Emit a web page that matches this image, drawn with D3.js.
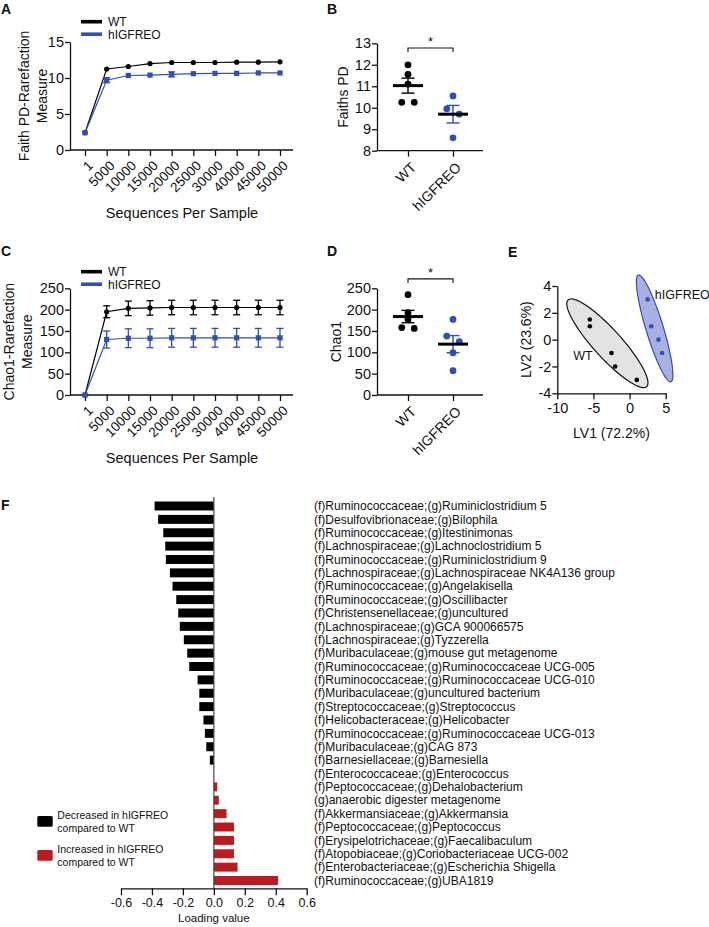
<!DOCTYPE html>
<html><head><meta charset="utf-8">
<script src="https://cdn.jsdelivr.net/npm/d3@7"></script>
<style>
body{margin:0;background:#fff}
svg{display:block}
text{font-family:"Liberation Sans",Arial,Helvetica,sans-serif;fill:#111}
</style>
</head><body>
<svg id="c" width="709" height="927"></svg>
<script>
// ---------------- DATA ----------------
const depths = ["1","5000","10000","15000","20000","25000","30000","40000","45000","50000"];
const faithWT    = [2.4,11.25,11.6,12.0,12.15,12.15,12.15,12.2,12.2,12.25];
const faithWTsem = [0.05,0.3,0.3,0.3,0.25,0.25,0.25,0.25,0.3,0.3];
const faithKO    = [2.4,9.7,10.35,10.4,10.5,10.6,10.65,10.65,10.7,10.7];
const faithKOsem = [0.05,0.35,0.3,0.3,0.35,0.3,0.3,0.3,0.3,0.3];
const chaoWT    = [0,195,203,204,205,205,205,205,205,205];
const chaoWTsem = [0,14,17,17,17,17,17,17,17,17];
const chaoKO    = [0,130,133,133,134,134,134,134,134,134];
const chaoKOsem = [0,20,22,22,22,22,22,22,22,22];
const groups = ["WT","hIGFREO"];
const faithPD_WT = [12.0,11.55,11.1,10.25,10.25];
const faithPD_KO = [10.55,9.95,9.7,8.6];
const chao1_WT = [235,193,177,156,158];
const chao1_KO = [177,138,125,99,57];
const sigFaith = 12.78, sigChao = 272;
const plsWT = [[-5.5,1.5],[-5.5,1.0],[-2.5,-1.0],[-2,-2],[1,-3]];
const plsKO = [[2.5,3],[3,1],[4,0],[4.5,-1]];
const ellipseWT = {c:[-3.07,-0.27], a:[5.43,-3.23], b:[1.44,0.70]};
const ellipseKO = {c:[3.47,0.84], a:[2.25,-3.98], b:[1.15,0.19]};
const taxa = [
"(f)Ruminococcaceae;(g)Ruminiclostridium 5",
"(f)Desulfovibrionaceae;(g)Bilophila",
"(f)Ruminococcaceae;(g)Itestinimonas",
"(f)Lachnospiraceae;(g)Lachnoclostridium 5",
"(f)Ruminococcaceae;(g)Ruminiclostridium 9",
"(f)Lachnospiraceae;(g)Lachnospiraceae NK4A136 group",
"(f)Ruminococcaceae;(g)Angelakisella",
"(f)Ruminococcaceae;(g)Oscillibacter",
"(f)Christensenellaceae;(g)uncultured",
"(f)Lachnospiraceae;(g)GCA 900066575",
"(f)Lachnospiraceae;(g)Tyzzerella",
"(f)Muribaculaceae;(g)mouse gut metagenome",
"(f)Ruminococcaceae;(g)Ruminococcaceae UCG-005",
"(f)Ruminococcaceae;(g)Ruminococcaceae UCG-010",
"(f)Muribaculaceae;(g)uncultured bacterium",
"(f)Streptococcaceae;(g)Streptococcus",
"(f)Helicobacteraceae;(g)Helicobacter",
"(f)Ruminococcaceae;(g)Ruminococcaceae UCG-013",
"(f)Muribaculaceae;(g)CAG 873",
"(f)Barnesiellaceae;(g)Barnesiella",
"(f)Enterococcaceae;(g)Enterococcus",
"(f)Peptococcaceae;(g)Dehalobacterium",
"(g)anaerobic digester metagenome",
"(f)Akkermansiaceae;(g)Akkermansia",
"(f)Peptococcaceae;(g)Peptococcus",
"(f)Erysipelotrichaceae;(g)Faecalibaculum",
"(f)Atopobiaceae;(g)Coriobacteriaceae UCG-002",
"(f)Enterobacteriaceae;(g)Escherichia Shigella",
"(f)Ruminococcaceae;(g)UBA1819"];
const loadings = [-0.383,-0.36,-0.327,-0.314,-0.31,-0.284,-0.267,-0.243,-0.23,-0.22,-0.194,-0.172,-0.159,-0.105,-0.094,-0.094,-0.067,-0.058,-0.049,-0.026,0.0,0.022,0.032,0.082,0.13,0.13,0.13,0.153,0.415];
const loadTicks = [-0.6,-0.4,-0.2,0,0.2,0.4,0.6];
const legendF = ["Decreased in hIGFREO|compared to WT","Increased in hIGFREO|compared to WT"];

// ---------------- STYLE ----------------
const BLACK="#000", BLUE="#2c50b4", RED="#bb1a1e";
const svg = d3.select("#c");
const fmtInt = d=>String(d);

function styleAxis(g, fs){
  g.selectAll("path,line").attr("stroke","#111").attr("stroke-width",1.3);
  g.selectAll("text").attr("font-size",fs).attr("fill","#111")
    .style("font-family",'"Liberation Sans",Arial,sans-serif');
}
function panelLabel(t,x,y){
  svg.append("text").attr("x",x).attr("y",y).attr("font-size",14).attr("font-weight","bold").text(t);
}
function rotTitle(lines, x0, yc, fs, gap){
  lines.forEach((l,i)=>{
    svg.append("text").attr("transform",`translate(${x0+i*gap},${yc}) rotate(-90)`)
      .attr("text-anchor","middle").attr("font-size",fs).text(l);
  });
}

// ---------------- Rarefaction panels (A, C) ----------------
function rarefaction(yScale, ticks, wt, wtE, ko, koE, legendY, titleLines, titleX, xTitleY){
  const x = d3.scalePoint().domain(depths).range([85,280]);
  const gY = svg.append("g").attr("transform","translate(70,0)")
    .call(d3.axisLeft(yScale).tickValues(ticks).tickFormat(fmtInt).tickSize(5).tickSizeOuter(0).tickPadding(1));
  styleAxis(gY,14.5);
  const base = yScale.range()[0];
  const gX = svg.append("g").attr("transform",`translate(0,${base})`)
    .call(d3.axisBottom(x).tickSize(6).tickSizeOuter(0));
  gX.select(".domain").remove();
  gX.append("line").attr("x1",70).attr("x2",293).attr("stroke","#111").attr("stroke-width",1.3);
  styleAxis(gX,13.5);
  gX.selectAll(".tick text").attr("y",0).attr("dy","0.35em").attr("text-anchor","end")
    .attr("transform","translate(5,13) rotate(-45)");
  const series = [{v:wt,e:wtE,c:BLACK,shape:"circle"},{v:ko,e:koE,c:BLUE,shape:"square"}];
  series.forEach(s=>{
    const g = svg.append("g");
    const pts = depths.map((d,i)=>({d, v:s.v[i], e:s.e[i]}));
    g.append("path").datum(pts).attr("fill","none").attr("stroke",s.c).attr("stroke-width",1.2)
      .attr("d", d3.line().x(p=>x(p.d)).y(p=>yScale(p.v)));
    const eb = g.selectAll(".eb").data(pts.filter(p=>p.e>0.06*(ticks[1]-ticks[0]))).join("g");
    eb.append("line").attr("x1",p=>x(p.d)).attr("x2",p=>x(p.d))
      .attr("y1",p=>yScale(p.v-p.e)).attr("y2",p=>yScale(p.v+p.e)).attr("stroke",s.c).attr("stroke-width",1.3);
    [-1,1].forEach(sg=>eb.append("line").attr("x1",p=>x(p.d)-3.5).attr("x2",p=>x(p.d)+3.5)
      .attr("y1",p=>yScale(p.v+sg*p.e)).attr("y2",p=>yScale(p.v+sg*p.e)).attr("stroke",s.c).attr("stroke-width",1.3));
    if(s.shape==="circle"){
      g.selectAll("circle").data(pts).join("circle").attr("cx",p=>x(p.d)).attr("cy",p=>yScale(p.v)).attr("r",2.6).attr("fill",s.c);
    } else {
      g.selectAll("rect").data(pts).join("rect").attr("x",p=>x(p.d)-2.6).attr("y",p=>yScale(p.v)-2.6)
        .attr("width",5.2).attr("height",5.2).attr("fill",s.c);
    }
  });
  groups.forEach((gname,i)=>{
    const yy = legendY + i*12.5;
    svg.append("line").attr("x1",81).attr("x2",102).attr("y1",yy).attr("y2",yy)
      .attr("stroke",i?BLUE:BLACK).attr("stroke-width",3.6);
    svg.append("text").attr("x",108).attr("y",yy+4.3).attr("font-size",12).text(gname);
  });
  rotTitle(titleLines, titleX, (yScale.range()[0]+yScale.range()[1])/2, 14, 18);
  svg.append("text").attr("x",182).attr("y",xTitleY).attr("text-anchor","middle").attr("font-size",14.5).text("Sequences Per Sample");
}
const yA = d3.scaleLinear().domain([0,15]).range([150,42]);
rarefaction(yA,[0,5,10,15],faithWT,faithWTsem,faithKO,faithKOsem,21.7,["Faith PD-Rarefaction","Measure"],29,218);
const yC = d3.scaleLinear().domain([0,250]).range([395,288.3]);
rarefaction(yC,[0,50,100,150,200,250],chaoWT,chaoWTsem,chaoKO,chaoKOsem,271.7,["Chao1-Rarefaction","Measure"],14,463);
panelLabel("A",1,14); panelLabel("C",1,256);

// ---------------- Dot plots (B, D) ----------------
function dodge(vals, yScale, r){
  const idx = vals.map((v,i)=>({v,i,py:yScale(v)})).sort((a,b)=>a.py-b.py);
  const out = new Array(vals.length);
  let cluster=[idx[0]];
  const flush=()=>{ const n=cluster.length; cluster.forEach((c,k)=>out[c.i]=(k-(n-1)/2)*12.5); };
  for(let k=1;k<idx.length;k++){
    if(idx[k].py-cluster[cluster.length-1].py < 2*r){ cluster.push(idx[k]); }
    else { flush(); cluster=[idx[k]]; }
  }
  flush();
  return out;
}
function dotPlot(yScale, ticks, wt, ko, sig, yTitle, titleX){
  const x = d3.scalePoint().domain(groups).range([408,453]);
  const gY = svg.append("g").attr("transform","translate(377,0)")
    .call(d3.axisLeft(yScale).tickValues(ticks).tickFormat(fmtInt).tickSize(5).tickSizeOuter(0).tickPadding(1));
  styleAxis(gY,14.5);
  const base = yScale.range()[0];
  const gX = svg.append("g").attr("transform",`translate(0,${base})`)
    .call(d3.axisBottom(x).tickSize(6).tickSizeOuter(0));
  gX.select(".domain").remove();
  gX.append("line").attr("x1",377).attr("x2",483).attr("stroke","#111").attr("stroke-width",1.3);
  styleAxis(gX,14);
  gX.selectAll(".tick text").attr("y",0).attr("dy","0.35em").attr("text-anchor","end")
    .attr("transform","translate(5,14) rotate(-45)");
  [[wt,BLACK],[ko,BLUE]].forEach(([vals,col],gi)=>{
    const gx = x(groups[gi]);
    const off = dodge(vals,yScale,3.4);
    const m = d3.mean(vals), sem = d3.deviation(vals)/Math.sqrt(vals.length);
    svg.append("g").selectAll("circle").data(vals).join("circle")
      .attr("cx",(v,i)=>gx+off[i]).attr("cy",v=>yScale(v)).attr("r",3.4).attr("fill",col);
    svg.append("line").attr("x1",gx).attr("x2",gx).attr("y1",yScale(m-sem)).attr("y2",yScale(m+sem)).attr("stroke",col).attr("stroke-width",1.4);
    [m-sem,m+sem].forEach(v=>svg.append("line").attr("x1",gx-6.5).attr("x2",gx+6.5).attr("y1",yScale(v)).attr("y2",yScale(v)).attr("stroke",col).attr("stroke-width",1.4));
    svg.append("line").attr("x1",gx-15).attr("x2",gx+15).attr("y1",yScale(m)).attr("y2",yScale(m)).attr("stroke","#000").attr("stroke-width",3);
  });
  const ys = yScale(sig);
  svg.append("path").attr("d",`M${x(groups[0])},${ys+4}V${ys}H${x(groups[1])}V${ys+4}`)
    .attr("fill","none").attr("stroke","#111").attr("stroke-width",1.1);
  svg.append("text").attr("x",(x(groups[0])+x(groups[1]))/2).attr("y",ys-2).attr("text-anchor","middle").attr("font-size",13).text("*");
  rotTitle([yTitle], titleX, (yScale.range()[0]+yScale.range()[1])/2, 14, 0);
}
const yB = d3.scaleLinear().domain([8,13]).range([150.7,43.3]);
dotPlot(yB,[8,9,10,11,12,13],faithPD_WT,faithPD_KO,sigFaith,"Faiths PD",348);
const yD = d3.scaleLinear().domain([0,250]).range([395,288.3]);
dotPlot(yD,[0,50,100,150,200,250],chao1_WT,chao1_KO,sigChao,"Chao1",341);
panelLabel("B",327,14); panelLabel("D",327,256);

// ---------------- PLS-DA (E) ----------------
const xE = d3.scaleLinear().domain([-10,5]).range([557.3,665.7]);
const yE = d3.scaleLinear().domain([-4,4]).range([393.3,286]);
function ellipsePath(e){
  const ts = d3.range(0,2*Math.PI+0.01,Math.PI/60);
  return d3.line().x(t=>xE(e.c[0]+Math.cos(t)*e.a[0]+Math.sin(t)*e.b[0]))
                  .y(t=>yE(e.c[1]+Math.cos(t)*e.a[1]+Math.sin(t)*e.b[1]))(ts)+"Z";
}
svg.append("path").attr("d",ellipsePath(ellipseWT)).attr("fill","#e3e3e3").attr("stroke","#111").attr("stroke-width",1.2);
svg.append("path").attr("d",ellipsePath(ellipseKO)).attr("fill","#aab0e0").attr("stroke",BLUE).attr("stroke-width",1.2);
svg.append("g").selectAll("circle").data(plsWT).join("circle").attr("cx",d=>xE(d[0])).attr("cy",d=>yE(d[1])).attr("r",2.3).attr("fill","#000");
svg.append("g").selectAll("circle").data(plsKO).join("circle").attr("cx",d=>xE(d[0])).attr("cy",d=>yE(d[1])).attr("r",2.3).attr("fill",BLUE);
const gEy = svg.append("g").attr("transform","translate(557.3,0)")
  .call(d3.axisLeft(yE).tickValues([-4,-2,0,2,4]).tickSize(5).tickSizeOuter(0).tickPadding(1).tickFormat(fmtInt));
styleAxis(gEy,14.5);
const gEx = svg.append("g").attr("transform","translate(0,393.3)")
  .call(d3.axisBottom(xE).tickValues([-10,-5,0,5]).tickSize(6).tickSizeOuter(0).tickPadding(3).tickFormat(fmtInt));
styleAxis(gEx,14.5);
svg.append("text").attr("x",xE(-2.5)).attr("y",438).attr("text-anchor","middle").attr("font-size",14).text("LV1 (72.2%)");
rotTitle(["LV2 (23.6%)"],531,(yE.range()[0]+yE.range()[1])/2,14,0);
svg.append("text").attr("x",xE(-7.8)).attr("y",yE(-1.5)).attr("font-size",12.5).text("WT");
svg.append("text").attr("x",xE(3.5)).attr("y",yE(3.0)).attr("font-size",12.5).text("hIGFREO");
panelLabel("E",508,257);

// ---------------- Loadings (F) ----------------
const xF = d3.scaleLinear().domain([-0.6,0.6]).range([121,306.7]);
const yF = d3.scaleBand().domain(taxa).range([499.3,887.2]).paddingInner(0.33).paddingOuter(0.165);
svg.append("g").selectAll("rect").data(taxa).join("rect")
  .attr("x",(t,i)=>xF(Math.min(0,loadings[i])))
  .attr("width",(t,i)=>Math.abs(xF(loadings[i])-xF(0)))
  .attr("y",t=>yF(t)).attr("height",yF.bandwidth())
  .attr("fill",(t,i)=>loadings[i]<0?BLACK:RED);
svg.append("line").attr("x1",xF(0)).attr("x2",xF(0)).attr("y1",497).attr("y2",888.3).attr("stroke","#444").attr("stroke-width",1.2);
const gFx = svg.append("g").attr("transform","translate(0,888.3)")
  .call(d3.axisBottom(xF).tickValues(loadTicks).tickSize(7).tickSizeOuter(0).tickPadding(3).tickFormat(d=>d.toFixed(1)));
styleAxis(gFx,12.5);
svg.append("text").attr("x",xF(0)).attr("y",922).attr("text-anchor","middle").attr("font-size",11.5).text("Loading value");
svg.append("g").selectAll("text").data(taxa).join("text")
  .attr("x",314).attr("y",t=>yF(t)+yF.bandwidth()/2).attr("dy","0.35em").attr("font-size",12).text(t=>t);
legendF.forEach((s,i)=>{
  const y0 = 816 + i*34;
  svg.append("rect").attr("x",37.3).attr("y",y0).attr("width",15.4).attr("height",10.7).attr("rx",1.5).attr("fill",i?RED:BLACK);
  s.split("|").forEach((ln,k)=>svg.append("text").attr("x",57.3).attr("y",y0+3+k*12.5).attr("font-size",10.5).text(ln));
});
panelLabel("F",1,510);
</script>
</body></html>
